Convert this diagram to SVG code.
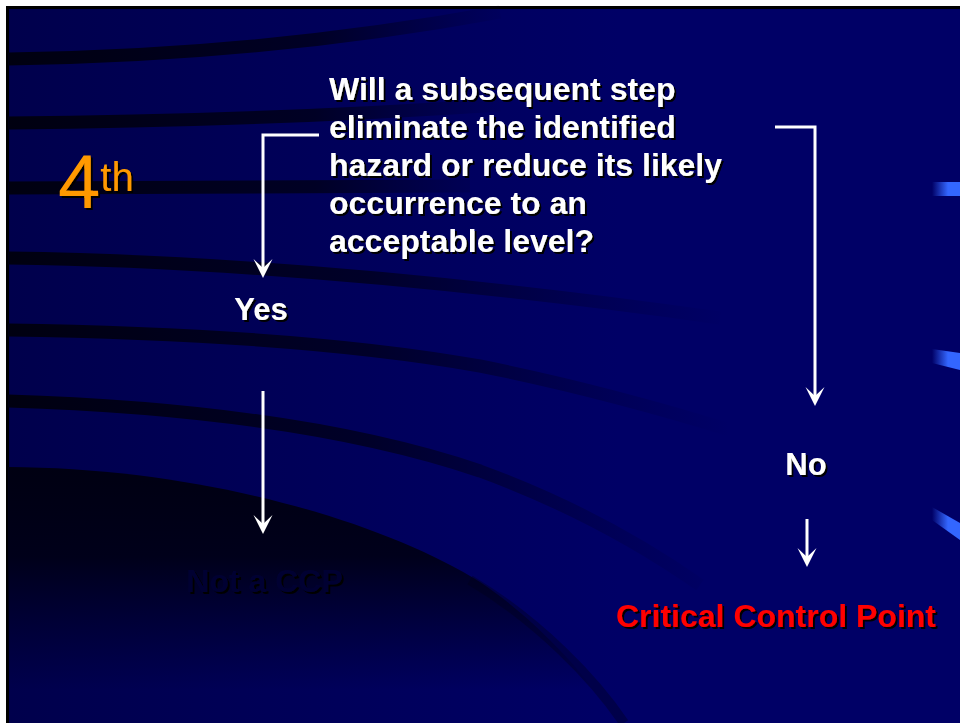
<svg xmlns="http://www.w3.org/2000/svg" width="960" height="723" viewBox="0 0 960 723">
  <defs>
    <linearGradient id="bg" gradientUnits="userSpaceOnUse" x1="8" y1="0" x2="620" y2="0">
      <stop offset="0" stop-color="#00004c"/>
      <stop offset="1" stop-color="#000066"/>
    </linearGradient>
    <linearGradient id="stripeFade" gradientUnits="userSpaceOnUse" x1="8" y1="0" x2="730" y2="0">
      <stop offset="0" stop-color="#000010" stop-opacity="1"/>
      <stop offset="0.5" stop-color="#000018" stop-opacity="0.75"/>
      <stop offset="1" stop-color="#000030" stop-opacity="0"/>
    </linearGradient>
    <linearGradient id="stripeShort" gradientUnits="userSpaceOnUse" x1="8" y1="0" x2="520" y2="0">
      <stop offset="0" stop-color="#000010" stop-opacity="1"/>
      <stop offset="0.6" stop-color="#000018" stop-opacity="0.8"/>
      <stop offset="1" stop-color="#000030" stop-opacity="0"/>
    </linearGradient>
    <linearGradient id="darkRegion" gradientUnits="userSpaceOnUse" x1="0" y1="468" x2="0" y2="690">
      <stop offset="0" stop-color="#000012" stop-opacity="1"/>
      <stop offset="0.4" stop-color="#000014" stop-opacity="0.9"/>
      <stop offset="1" stop-color="#000020" stop-opacity="0"/>
    </linearGradient>
    <linearGradient id="hl" gradientUnits="userSpaceOnUse" x1="932" y1="0" x2="948" y2="0">
      <stop offset="0" stop-color="#000066"/>
      <stop offset="1" stop-color="#3366ff"/>
    </linearGradient>
    <filter id="sh" x="-5%" y="-20%" width="115%" height="150%">
      <feDropShadow dx="2" dy="2" stdDeviation="0.4" flood-color="#000000" flood-opacity="1"/>
    </filter>
    <marker id="arrow" viewBox="-10 -10 21 20" refX="0" refY="0" markerWidth="21" markerHeight="20" markerUnits="userSpaceOnUse" orient="auto">
      <path d="M10,0 L-9,-9.5 L0,0 L-9,9.5 Z" fill="#ffffff"/>
    </marker>
    <style>
      .q { font-family: "Liberation Sans", Arial, sans-serif; font-weight: bold; font-size: 32px; fill: #ffffff; }
      .lbl { font-family: "Liberation Sans", Arial, sans-serif; font-weight: bold; font-size: 31px; fill: #ffffff; text-anchor: middle; }
      .red { font-family: "Liberation Sans", Arial, sans-serif; font-weight: bold; font-size: 32px; fill: #ff0000; }
      .dim { font-family: "Liberation Sans", Arial, sans-serif; font-weight: bold; font-size: 32px; fill: #000033; text-anchor: middle; }
      .step { font-family: "Liberation Sans", Arial, sans-serif; fill: #ff9900; }
      .conn { fill: none; stroke: #ffffff; stroke-width: 3; }
      .stripe { fill: none; stroke-width: 13; }
    </style>
  </defs>

  <!-- slide background -->
  <rect x="0" y="0" width="960" height="723" fill="#ffffff"/>
  <rect x="6" y="6" width="954" height="717" fill="#000000"/>
  <rect x="9" y="9" width="951" height="714" fill="url(#bg)"/>

  <!-- dark swooshes -->
  <path class="stripe" stroke="url(#stripeShort)" d="M8,59 Q260,56 500,12"/>
  <path class="stripe" stroke="url(#stripeShort)" d="M8,123 Q260,121 500,105"/>
  <path class="stripe" stroke="url(#stripeShort)" d="M8,188 Q250,187 470,186"/>
  <path class="stripe" stroke="url(#stripeFade)" d="M8,258 Q320,262 720,318"/>
  <path class="stripe" stroke="url(#stripeFade)" d="M8,330 Q300,334 480,366 Q600,390 730,430"/>
  <path class="stripe" stroke="url(#stripeFade)" d="M8,401 Q300,410 480,471 Q600,515 700,585"/>
  <path d="M8,467 C200,468 380,520 480,582 C540,622 590,680 618,723 L8,723 Z" fill="url(#darkRegion)"/>
  <path d="M470,580 C540,622 595,680 624,723" fill="none" stroke="#000018" stroke-opacity="0.35" stroke-width="10"/>

  <!-- right-edge highlights -->
  <path d="M932,182 L960,182 L960,196 L932,196 Z" fill="url(#hl)"/>
  <path d="M932,349 L960,353 L960,370 L932,363 Z" fill="url(#hl)"/>
  <path d="M932,507 L960,523 L960,540 L932,520 Z" fill="url(#hl)"/>

  <!-- connectors -->
  <g id="connectors">
    <polyline class="conn" points="319,135 263,135 263,268" marker-end="url(#arrow)"/>
    <polyline class="conn" points="775,127 815,127 815,396" marker-end="url(#arrow)"/>
    <line class="conn" x1="263" y1="391" x2="263" y2="524" marker-end="url(#arrow)"/>
    <line class="conn" x1="807" y1="519" x2="807" y2="557" marker-end="url(#arrow)"/>
  </g>

  <g id="step-label" filter="url(#sh)">
    <text class="step" x="58" y="208" font-size="76">4<tspan font-size="40" dy="-17">th</tspan></text>
  </g>

  <g id="question" filter="url(#sh)">
    <text class="q" x="329" y="99.5">Will a subsequent step</text>
    <text class="q" x="329" y="137.7">eliminate the identified</text>
    <text class="q" x="329" y="175.9">hazard or reduce its likely</text>
    <text class="q" x="329" y="214.1">occurrence to an</text>
    <text class="q" x="329" y="252.3">acceptable level?</text>
  </g>

  <g id="yes" filter="url(#sh)">
    <text class="lbl" x="261" y="320">Yes</text>
  </g>

  <g id="no" filter="url(#sh)">
    <text class="lbl" x="806" y="475">No</text>
  </g>

  <g id="not-ccp" filter="url(#sh)">
    <text class="dim" x="264.5" y="592">Not a CCP</text>
  </g>

  <g id="ccp" filter="url(#sh)">
    <text class="red" x="616" y="627">Critical Control Point</text>
  </g>
</svg>
